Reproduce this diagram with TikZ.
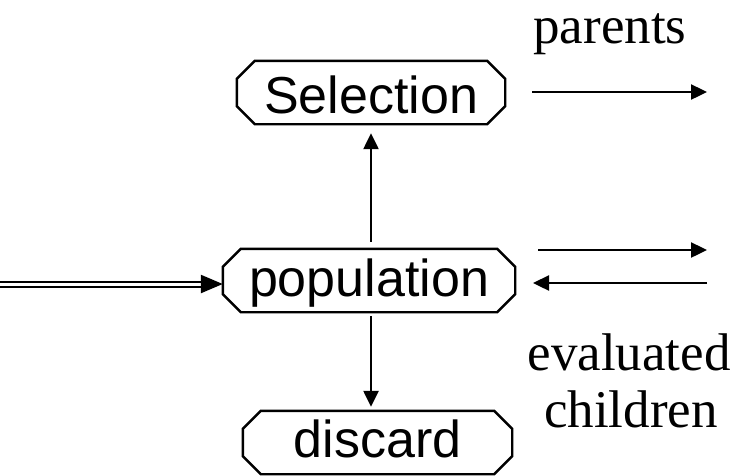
\documentclass[tikz,border=0pt]{standalone}
\usepackage{fontspec}
\setmainfont{Liberation Serif}
\newfontfamily\boxfont{Liberation Sans}
\usetikzlibrary{arrows.meta}
\newcommand\octbox[1]{\draw[lw] ([xshift=18pt]#1.north west) -- ([xshift=-18pt]#1.north east) -- ([yshift=-18pt]#1.north east) -- ([yshift=18pt]#1.south east) -- ([xshift=-18pt]#1.south east) -- ([xshift=18pt]#1.south west) -- ([yshift=18pt]#1.south west) -- ([yshift=-18pt]#1.north west) -- cycle;}
\begin{document}
\begin{tikzpicture}[x=1pt,y=1pt,
  lw/.style={line width=2.4pt},
  arr/.style={lw,-{Triangle[length=16pt,width=15pt]}},
  boxnode/.style={minimum width=#1, inner sep=0pt, minimum height=63pt, font=\boxfont\fontsize{52}{60}\selectfont, text depth=0pt},
  lbl/.style={font=\fontsize{53}{60}\selectfont, anchor=base, inner sep=0pt}]
\useasboundingbox (0,0) rectangle (735,-475);
\node[boxnode=268pt, text height=41pt] (sel) at (371,-92.5) {Selection};
\node[boxnode=292pt, text height=32pt] (pop) at (369,-280.5) {population};
\node[boxnode=269pt, text height=29pt] (dis) at (377.5,-442.5) {discard};
\octbox{sel}
\octbox{pop}
\octbox{dis}
\node[lbl] (parents) at (610,-43) {parents};
\node[lbl] (eval) at (629,-370) {evaluated};
\node[lbl] (child) at (631,-427) {children};
\coordinate (a1s) at (532,-92);
\coordinate (a1e) at (707,-92);
\coordinate (a2s) at (538,-250);
\coordinate (a2e) at (707,-250);
\coordinate (a3s) at (707,-283);
\coordinate (a3e) at (533,-283);
\draw[arr] (a1s) -- (a1e);
\draw[arr] (a2s) -- (a2e);
\draw[arr] (a3s) -- (a3e);
\draw[arr, shorten <=7pt, shorten >=9pt] (pop.north -| sel.south) -- (sel.south);
\draw[arr, shorten <=4pt, shorten >=4pt] (pop.south -| sel.south) -- (dis.north -| sel.south);
\coordinate (in) at (0,-284);
\draw[line width=2pt, double, double distance=3pt, shorten >=20pt] (in) -- (in -| pop.west);
\draw[lw, -{Triangle[length=22pt,width=18pt]}] ([xshift=-22pt]in -| pop.west) -- (in -| pop.west);
\end{tikzpicture}
\end{document}
